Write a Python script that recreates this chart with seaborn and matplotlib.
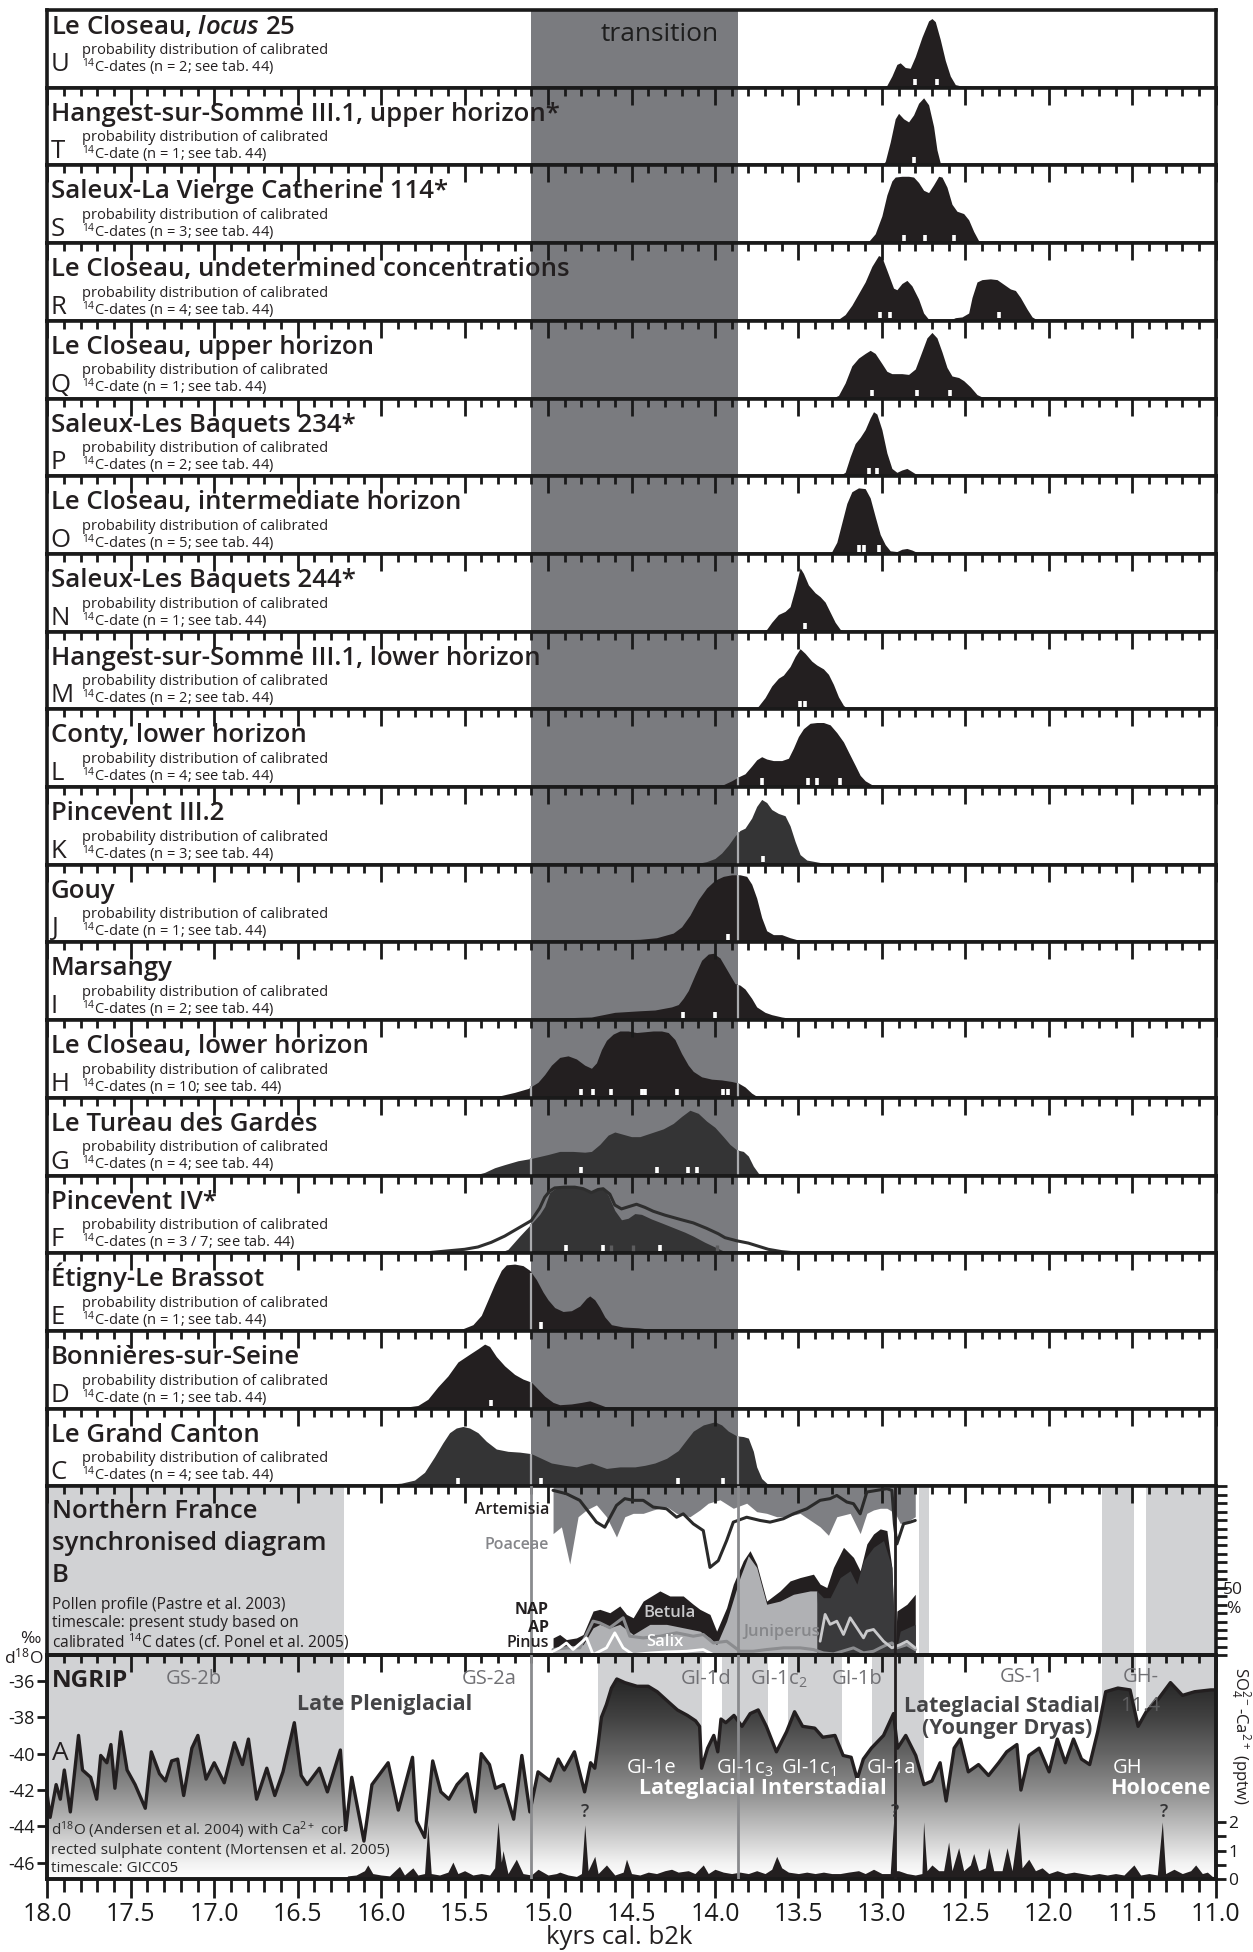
import numpy as np
import matplotlib
matplotlib.use("Agg")
import matplotlib.pyplot as plt
import seaborn as sns
from matplotlib.ticker import MultipleLocator, FixedLocator, NullFormatter
from matplotlib.colors import LinearSegmentedColormap

sns.set_style("white")
plt.rcParams.update({
    "font.family": ["Open Sans", "DejaVu Sans"],
    "mathtext.fontset": "custom",
    "mathtext.rm": "Open Sans",
    "mathtext.it": "Open Sans:italic:semibold",
    "mathtext.bf": "Open Sans:bold",
    "mathtext.default": "regular",
    "axes.unicode_minus": False,
    "axes.axisbelow": False,
    "axes.edgecolor": "#1a1a1a",
    "xtick.color": "#1a1a1a",
    "ytick.color": "#1a1a1a",
    "text.color": "#231f20",
})

# ---------------------------------------------------------------- site data
u_kyr = [13.00, 12.97, 12.94, 12.91, 12.89, 12.86, 12.83, 12.80, 12.76, 12.72, 12.70, 12.68, 12.65, 12.62, 12.59, 12.56, 12.52, 12.47, 12.43]
u_prob = [0, 0.03, 0.15, 0.30, 0.32, 0.26, 0.25, 0.40, 0.65, 0.86, 0.89, 0.85, 0.62, 0.35, 0.15, 0.04, 0.02, 0.02, 0]
u_dates = [12.80, 12.67]

t_kyr = [13.00, 12.98, 12.95, 12.92, 12.90, 12.87, 12.84, 12.81, 12.78, 12.75, 12.72, 12.69, 12.67, 12.65, 12.63]
t_prob = [0, 0.05, 0.30, 0.60, 0.67, 0.60, 0.56, 0.65, 0.80, 0.87, 0.78, 0.50, 0.20, 0.03, 0]
t_dates = [12.81]

s_kyr = [13.12, 13.08, 13.04, 13.00, 12.97, 12.94, 12.92, 12.88, 12.84, 12.81, 12.78, 12.75, 12.72, 12.69, 12.66, 12.64, 12.61, 12.58, 12.55, 12.51, 12.48, 12.45, 12.42, 12.38, 12.32, 12.26, 12.23]
s_prob = [0, 0.02, 0.12, 0.35, 0.62, 0.80, 0.85, 0.86, 0.86, 0.85, 0.78, 0.68, 0.65, 0.75, 0.86, 0.85, 0.72, 0.50, 0.41, 0.38, 0.30, 0.15, 0.03, 0.02, 0.03, 0.01, 0]
s_dates = [12.87, 12.74, 12.57]

r_kyr = [13.30, 13.26, 13.22, 13.18, 13.14, 13.10, 13.06, 13.02, 13.00, 12.97, 12.93, 12.91, 12.88, 12.85, 12.82, 12.78, 12.75, 12.72, 12.68, 12.60, 12.56, 12.52, 12.48, 12.46, 12.43, 12.40, 12.35, 12.31, 12.27, 12.23, 12.20, 12.17, 12.13, 12.10, 12.06]
r_prob = [0, 0.02, 0.08, 0.20, 0.35, 0.50, 0.70, 0.84, 0.82, 0.65, 0.42, 0.40, 0.48, 0.52, 0.45, 0.28, 0.10, 0.02, 0, 0, 0.04, 0.05, 0.10, 0.30, 0.50, 0.53, 0.54, 0.53, 0.47, 0.41, 0.39, 0.30, 0.15, 0.05, 0]
r_dates = [13.01, 12.95, 12.30]

q_kyr = [13.30, 13.26, 13.22, 13.18, 13.14, 13.10, 13.07, 13.04, 13.00, 12.97, 12.94, 12.88, 12.84, 12.80, 12.77, 12.73, 12.70, 12.67, 12.64, 12.61, 12.58, 12.54, 12.51, 12.47, 12.43, 12.40, 12.34, 12.28, 12.24]
q_prob = [0, 0.04, 0.20, 0.42, 0.52, 0.58, 0.62, 0.58, 0.45, 0.35, 0.32, 0.32, 0.31, 0.38, 0.55, 0.78, 0.85, 0.78, 0.60, 0.40, 0.29, 0.27, 0.23, 0.15, 0.05, 0.02, 0.02, 0.01, 0]
q_dates = [13.06, 12.79, 12.59]

p_kyr = [13.26, 13.22, 13.19, 13.16, 13.13, 13.10, 13.07, 13.05, 13.03, 13.00, 12.97, 12.94, 12.91, 12.88, 12.85, 12.82, 12.79, 12.76]
p_prob = [0, 0.05, 0.25, 0.42, 0.50, 0.60, 0.75, 0.83, 0.80, 0.60, 0.30, 0.10, 0.05, 0.08, 0.10, 0.06, 0.02, 0]
p_dates = [13.08, 13.03]

o_kyr = [13.34, 13.30, 13.27, 13.24, 13.21, 13.18, 13.14, 13.10, 13.07, 13.04, 13.01, 12.98, 12.95, 12.91, 12.88, 12.85, 12.82, 12.79, 12.75]
o_prob = [0, 0.03, 0.15, 0.40, 0.65, 0.80, 0.85, 0.84, 0.72, 0.48, 0.25, 0.12, 0.04, 0.03, 0.06, 0.07, 0.05, 0.02, 0]
o_dates = [13.135, 13.105, 13.02]

n_kyr = [13.72, 13.69, 13.66, 13.62, 13.58, 13.55, 13.52, 13.49, 13.47, 13.44, 13.40, 13.37, 13.34, 13.31, 13.28, 13.25, 13.22]
n_prob = [0, 0.03, 0.12, 0.22, 0.26, 0.32, 0.55, 0.82, 0.75, 0.60, 0.50, 0.45, 0.38, 0.25, 0.12, 0.03, 0]
n_dates = [13.46]

m_kyr = [13.77, 13.74, 13.70, 13.66, 13.62, 13.59, 13.55, 13.52, 13.49, 13.46, 13.42, 13.39, 13.35, 13.32, 13.29, 13.26, 13.23, 13.20]
m_prob = [0, 0.04, 0.15, 0.30, 0.40, 0.44, 0.55, 0.68, 0.78, 0.72, 0.62, 0.57, 0.52, 0.45, 0.32, 0.16, 0.05, 0]
m_dates = [13.49, 13.46]

l_kyr = [14.10, 14.02, 13.95, 13.90, 13.86, 13.82, 13.78, 13.75, 13.72, 13.69, 13.65, 13.60, 13.56, 13.53, 13.50, 13.47, 13.43, 13.39, 13.35, 13.31, 13.27, 13.23, 13.20, 13.16, 13.13, 13.10, 13.06, 13.02]
l_prob = [0, 0.01, 0.03, 0.08, 0.13, 0.17, 0.27, 0.35, 0.39, 0.36, 0.34, 0.34, 0.37, 0.50, 0.65, 0.75, 0.82, 0.83, 0.83, 0.80, 0.70, 0.58, 0.45, 0.28, 0.15, 0.08, 0.03, 0]
l_dates = [13.72, 13.44, 13.39, 13.25]

k_kyr = [14.20, 14.12, 14.05, 14.00, 13.96, 13.92, 13.88, 13.85, 13.82, 13.78, 13.75, 13.72, 13.69, 13.66, 13.62, 13.58, 13.55, 13.52, 13.49, 13.45, 13.40, 13.35, 13.29]
k_prob = [0, 0.01, 0.04, 0.08, 0.15, 0.25, 0.37, 0.44, 0.47, 0.60, 0.75, 0.84, 0.80, 0.71, 0.66, 0.63, 0.50, 0.30, 0.13, 0.06, 0.04, 0.02, 0]
k_dates = [13.71]

j_kyr = [15.20, 15.00, 14.80, 14.60, 14.45, 14.35, 14.25, 14.20, 14.15, 14.10, 14.05, 14.00, 13.95, 13.90, 13.85, 13.81, 13.78, 13.75, 13.72, 13.69, 13.65, 13.60, 13.55, 13.50, 13.42, 13.37]
j_prob = [0, 0.02, 0.03, 0.03, 0.04, 0.06, 0.12, 0.20, 0.35, 0.55, 0.70, 0.80, 0.85, 0.87, 0.87, 0.85, 0.75, 0.57, 0.32, 0.15, 0.10, 0.10, 0.06, 0.03, 0.01, 0]
j_dates = [13.92]

i_kyr = [15.20, 15.10, 14.90, 14.74, 14.60, 14.45, 14.36, 14.26, 14.22, 14.19, 14.16, 14.12, 14.08, 14.04, 14.01, 13.97, 13.94, 13.91, 13.88, 13.85, 13.82, 13.78, 13.75, 13.70, 13.66, 13.60, 13.54, 13.50]
i_prob = [0, 0.02, 0.03, 0.04, 0.10, 0.12, 0.13, 0.17, 0.20, 0.28, 0.38, 0.58, 0.77, 0.85, 0.86, 0.80, 0.69, 0.58, 0.47, 0.45, 0.40, 0.28, 0.17, 0.10, 0.07, 0.04, 0.02, 0]
i_dates = [14.19, 14.00]

h_kyr = [15.35, 15.28, 15.20, 15.12, 15.06, 15.02, 14.98, 14.93, 14.88, 14.83, 14.78, 14.74, 14.71, 14.68, 14.65, 14.61, 14.57, 14.52, 14.47, 14.42, 14.37, 14.32, 14.28, 14.24, 14.20, 14.16, 14.13, 14.08, 14.02, 13.96, 13.90, 13.86, 13.82, 13.78, 13.75, 13.72]
h_prob = [0, 0.03, 0.07, 0.12, 0.20, 0.30, 0.42, 0.52, 0.54, 0.50, 0.42, 0.38, 0.45, 0.62, 0.74, 0.82, 0.86, 0.86, 0.84, 0.85, 0.86, 0.86, 0.84, 0.75, 0.57, 0.42, 0.34, 0.27, 0.24, 0.23, 0.21, 0.19, 0.14, 0.06, 0.02, 0]
h_dates = [14.80, 14.73, 14.62, 14.44, 14.42, 14.23, 13.95, 13.92]

g_kyr = [15.45, 15.38, 15.32, 15.26, 15.18, 15.10, 15.00, 14.93, 14.85, 14.78, 14.74, 14.69, 14.64, 14.60, 14.55, 14.50, 14.45, 14.38, 14.31, 14.25, 14.20, 14.15, 14.10, 14.05, 14.00, 13.95, 13.91, 13.87, 13.83, 13.80, 13.77, 13.74, 13.71]
g_prob = [0, 0.04, 0.10, 0.14, 0.19, 0.22, 0.27, 0.31, 0.31, 0.30, 0.31, 0.40, 0.52, 0.56, 0.53, 0.50, 0.50, 0.55, 0.60, 0.67, 0.76, 0.84, 0.80, 0.70, 0.62, 0.50, 0.40, 0.33, 0.31, 0.25, 0.12, 0.03, 0]
g_dates = [14.80, 14.35, 14.16, 14.11]

f_kyr = [15.30, 15.24, 15.17, 15.10, 15.05, 15.02, 14.99, 14.96, 14.90, 14.84, 14.79, 14.74, 14.70, 14.67, 14.64, 14.60, 14.56, 14.52, 14.48, 14.44, 14.38, 14.32, 14.25, 14.18, 14.13, 14.06, 13.99, 13.94, 13.90]
f_prob = [0, 0.05, 0.22, 0.38, 0.50, 0.60, 0.78, 0.83, 0.85, 0.85, 0.83, 0.78, 0.82, 0.83, 0.75, 0.55, 0.43, 0.45, 0.51, 0.50, 0.44, 0.39, 0.33, 0.27, 0.22, 0.14, 0.07, 0.02, 0]
f_dates = [14.89, 14.67, 14.33]
f7_kyr = [15.75, 15.70, 15.60, 15.50, 15.42, 15.34, 15.26, 15.18, 15.10, 15.05, 15.02, 14.99, 14.96, 14.90, 14.84, 14.79, 14.74, 14.70, 14.67, 14.63, 14.60, 14.56, 14.50, 14.47, 14.42, 14.37, 14.30, 14.20, 14.13, 14.05, 13.98, 13.94, 13.87, 13.80, 13.74, 13.68, 13.60, 13.50]
f7_prob = [0, 0.01, 0.03, 0.05, 0.08, 0.14, 0.22, 0.32, 0.42, 0.58, 0.72, 0.80, 0.84, 0.85, 0.85, 0.83, 0.78, 0.82, 0.83, 0.76, 0.62, 0.57, 0.61, 0.63, 0.59, 0.54, 0.49, 0.43, 0.39, 0.32, 0.25, 0.20, 0.16, 0.13, 0.09, 0.05, 0.02, 0]
f7_dates = [14.62, 14.49, 13.99]

e_kyr = [15.60, 15.52, 15.45, 15.40, 15.36, 15.32, 15.28, 15.25, 15.20, 15.15, 15.11, 15.07, 15.03, 15.00, 14.96, 14.91, 14.86, 14.81, 14.77, 14.75, 14.72, 14.69, 14.66, 14.62, 14.55, 14.46, 14.38, 14.30]
e_prob = [0, 0.02, 0.08, 0.20, 0.40, 0.60, 0.78, 0.85, 0.86, 0.84, 0.78, 0.66, 0.50, 0.40, 0.30, 0.25, 0.26, 0.32, 0.42, 0.45, 0.40, 0.30, 0.18, 0.08, 0.05, 0.04, 0.02, 0]
e_dates = [15.04]

d_kyr = [16.05, 15.95, 15.85, 15.78, 15.72, 15.66, 15.60, 15.54, 15.47, 15.42, 15.38, 15.35, 15.31, 15.26, 15.20, 15.15, 15.10, 15.06, 15.02, 14.97, 14.93, 14.86, 14.80, 14.75, 14.70, 14.65, 14.60]
d_prob = [0, 0.01, 0.02, 0.04, 0.12, 0.28, 0.42, 0.60, 0.70, 0.77, 0.83, 0.80, 0.67, 0.55, 0.44, 0.38, 0.34, 0.25, 0.16, 0.08, 0.05, 0.06, 0.08, 0.10, 0.06, 0.02, 0]
d_dates = [15.34]

c_kyr = [16.30, 16.20, 16.00, 15.88, 15.80, 15.74, 15.68, 15.63, 15.59, 15.55, 15.51, 15.47, 15.42, 15.37, 15.31, 15.24, 15.17, 15.10, 15.04, 14.98, 14.90, 14.83, 14.78, 14.74, 14.69, 14.65, 14.57, 14.48, 14.42, 14.36, 14.29, 14.22, 14.17, 14.13, 14.07, 14.00, 13.96, 13.92, 13.87, 13.83, 13.80, 13.77, 13.75, 13.72, 13.68, 13.65]
c_prob = [0, 0.01, 0.02, 0.04, 0.08, 0.18, 0.38, 0.56, 0.69, 0.75, 0.77, 0.75, 0.69, 0.58, 0.48, 0.45, 0.44, 0.42, 0.36, 0.30, 0.27, 0.25, 0.28, 0.30, 0.26, 0.23, 0.25, 0.25, 0.27, 0.30, 0.36, 0.46, 0.60, 0.71, 0.79, 0.83, 0.79, 0.71, 0.65, 0.64, 0.62, 0.45, 0.25, 0.10, 0.02, 0]
c_dates = [15.54, 15.04, 14.22, 13.95]

site_letters = ["U", "T", "S", "R", "Q", "P", "O", "N", "M", "L", "K", "J", "I", "H", "G", "F", "E", "D", "C"]
site_names = [r"Le Closeau, $\mathit{locus}$ 25",
              "Hangest-sur-Somme III.1, upper horizon*",
              "Saleux-La Vierge Catherine 114*",
              "Le Closeau, undetermined concentrations",
              "Le Closeau, upper horizon",
              "Saleux-Les Baquets 234*",
              "Le Closeau, intermediate horizon",
              "Saleux-Les Baquets 244*",
              "Hangest-sur-Somme III.1, lower horizon",
              "Conty, lower horizon",
              "Pincevent III.2",
              "Gouy",
              "Marsangy",
              "Le Closeau, lower horizon",
              "Le Tureau des Gardes",
              "Pincevent IV*",
              "Étigny-Le Brassot",
              "Bonnières-sur-Seine",
              "Le Grand Canton"]
site_counts = ["dates (n = 2", "date (n = 1", "dates (n = 3", "dates (n = 4", "date (n = 1",
               "dates (n = 2", "dates (n = 5", "date (n = 1", "dates (n = 2", "dates (n = 4",
               "dates (n = 3", "date (n = 1", "dates (n = 2", "dates (n = 10", "dates (n = 4",
               "dates (n = 3 / 7", "date (n = 1", "date (n = 1", "dates (n = 4"]
site_kyr = [u_kyr, t_kyr, s_kyr, r_kyr, q_kyr, p_kyr, o_kyr, n_kyr, m_kyr, l_kyr,
            k_kyr, j_kyr, i_kyr, h_kyr, g_kyr, f_kyr, e_kyr, d_kyr, c_kyr]
site_prob = [u_prob, t_prob, s_prob, r_prob, q_prob, p_prob, o_prob, n_prob, m_prob, l_prob,
             k_prob, j_prob, i_prob, h_prob, g_prob, f_prob, e_prob, d_prob, c_prob]
site_dates = [u_dates, t_dates, s_dates, r_dates, q_dates, p_dates, o_dates, n_dates, m_dates, l_dates,
              k_dates, j_dates, i_dates, h_dates, g_dates, f_dates, e_dates, d_dates, c_dates]
grey_sites = {"K", "G", "F", "C"}

transition = (15.10, 13.86)

# ---------------------------------------------------------------- pollen (B)
poa_kyr = [14.97, 14.92, 14.87, 14.82, 14.77, 14.71, 14.65, 14.59, 14.54, 14.49, 14.43, 14.37, 14.29, 14.23, 14.15, 14.09, 14.04, 13.97, 13.89, 13.81, 13.75, 13.69, 13.63, 13.57, 13.49, 13.43, 13.37, 13.32, 13.27, 13.19, 13.13, 13.09, 13.05, 13.01, 12.97, 12.92, 12.89, 12.85, 12.80]
poa_pct = [72, 76, 54, 82, 86, 89, 82, 70, 82, 84, 84, 86, 88, 84, 82, 86, 90, 92, 87, 90, 85, 84, 82, 82, 84, 80, 76, 71, 82, 84, 72, 84, 86, 87, 87, 84, 78, 79, 82]
art_kyr = [14.97, 14.89, 14.81, 14.71, 14.66, 14.59, 14.54, 14.49, 14.43, 14.37, 14.29, 14.23, 14.19, 14.13, 14.07, 14.03, 13.98, 13.93, 13.89, 13.81, 13.73, 13.67, 13.59, 13.53, 13.45, 13.37, 13.31, 13.27, 13.21, 13.17, 13.13, 13.09, 13.03, 12.97, 12.94, 12.925, 12.91, 12.87, 12.83, 12.80]
art_pct = [97.6, 95.6, 91.7, 78.8, 75.8, 88.7, 92.7, 91.7, 91.7, 87.7, 86.7, 81.7, 83.7, 77.8, 73.8, 52.0, 56.0, 67.9, 78.8, 81.7, 79.8, 78.8, 80.8, 83.7, 86.7, 91.7, 92.7, 94.6, 90.7, 89.7, 83.7, 96.6, 97.6, 98.6, 97.6, 77.8, 65.9, 77.8, 78.8, 79.8]
nap_kyr = [14.97, 14.93, 14.89, 14.83, 14.79, 14.73, 14.69, 14.63, 14.57, 14.53, 14.49, 14.43, 14.33, 14.27, 14.19, 14.13, 14.09, 14.03, 13.99, 13.93, 13.89, 13.83, 13.79, 13.75, 13.69, 13.61, 13.55, 13.49, 13.41, 13.37, 13.33, 13.29, 13.23, 13.17, 13.13, 13.09, 13.05, 13.01, 12.97, 12.94, 12.92, 12.91, 12.85, 12.80]
nap_pct = [10.3, 12.3, 9.3, 10.3, 12.3, 26.2, 27.2, 25.2, 29.2, 24.2, 22.2, 32.1, 38.1, 35.1, 35.1, 30.2, 27.2, 24.2, 14.3, 28.2, 42.1, 56.0, 61.9, 54.0, 32.1, 38.1, 44.0, 46.0, 48.0, 42.1, 40.1, 52.0, 63.9, 57.9, 50.0, 65.9, 71.8, 74.8, 73.8, 52.0, 0.4, 26.2, 30.2, 36.1]
jun_kyr = [14.97, 14.89, 14.79, 14.73, 14.69, 14.63, 14.57, 14.49, 14.39, 14.29, 14.19, 14.09, 14.03, 13.99, 13.93, 13.85, 13.80, 13.75, 13.69, 13.61, 13.53, 13.43, 13.39, 13.37, 13.30, 13.20, 13.10, 13.00, 12.92, 12.85, 12.80]
jun_pct = [4.4, 5.4, 6.3, 16.3, 18.3, 16.3, 18.3, 12.3, 18.3, 18.3, 16.3, 14.3, 10.3, 6.3, 20.2, 46.0, 58.9, 52.0, 30.2, 32.1, 36.1, 38.1, 38.1, 4.4, 3, 3, 3, 3, 3, 5, 4]
bet_kyr = [13.39, 13.35, 13.31, 13.25, 13.19, 13.15, 13.11, 13.05, 12.99, 12.94, 12.92, 12.89, 12.80]
bet_pct = [38.1, 34.1, 34.1, 46.0, 50.0, 42.1, 56.0, 63.9, 67.9, 52.0, 0.4, 14.3, 18.3]
ap_kyr = [14.97, 14.89, 14.81, 14.73, 14.69, 14.63, 14.55, 14.51, 14.43, 14.33, 14.23, 14.13, 14.07, 14.01, 13.93, 13.85, 13.77, 13.69, 13.59, 13.49, 13.41, 13.35, 13.29, 13.17, 13.11, 13.05, 13.01, 12.97, 12.94, 12.91, 12.85, 12.80]
ap_pct = [3.4, 4.4, 4.4, 20.2, 19.2, 16.3, 22.2, 11.3, 10.3, 11.3, 13.3, 11.3, 12.3, 7.3, 8.3, 2.4, 2.4, 3.4, 4.4, 4.4, 3.4, 1.4, 0.8, 4.4, 1.4, 2.4, 4.4, 6.3, 7.3, 4.4, 6.3, 3.4]
pin_kyr = [14.97, 14.93, 14.89, 14.85, 14.77, 14.73, 14.65, 14.60, 14.55, 14.49, 14.39, 14.29, 14.17, 14.07, 14.01]
pin_pct = [2.4, 4.4, 7.3, 3.4, 10.3, 0.4, 4.4, 13.3, 4.4, 0.4, 1.4, 2.0, 2.4, 3.4, 0.4]
sal_kyr = [13.37, 13.34, 13.31, 13.27, 13.23, 13.19, 13.15, 13.11, 13.09, 13.05, 12.99, 12.94, 12.89, 12.85, 12.80]
sal_pct = [8.3, 24.2, 18.3, 20.2, 12.3, 22.2, 16.3, 10.3, 14.3, 15.3, 8.3, 4.4, 6.3, 8.3, 4.4]
b_zones = [(18.0, 16.22), (12.78, 12.72), (11.68, 11.49), (11.42, 11.0)]

# ---------------------------------------------------------------- NGRIP (A)
d18o_kyr = [18.00, 17.983, 17.947, 17.922, 17.898, 17.862, 17.813, 17.789, 17.74, 17.704, 17.68, 17.643, 17.619, 17.595,
            17.559, 17.522, 17.474, 17.413, 17.377, 17.328, 17.292, 17.255, 17.219, 17.183, 17.134, 17.098, 17.049,
            17.0, 16.94, 16.879, 16.831, 16.795, 16.746, 16.685, 16.637, 16.588, 16.52, 16.479, 16.443, 16.37,
            16.322, 16.244, 16.212, 16.176, 16.103, 16.055, 15.958, 15.897, 15.812, 15.788, 15.739, 15.691, 15.642,
            15.594, 15.545, 15.485, 15.436, 15.40, 15.351, 15.315, 15.267, 15.206, 15.157, 15.109, 15.06, 14.988,
            14.939, 14.903, 14.842, 14.781, 14.745, 14.72, 14.70, 14.68, 14.65, 14.62, 14.588, 14.54, 14.467, 14.40,
            14.346, 14.274, 14.225, 14.165, 14.116, 14.092, 14.08, 14.044, 14.007, 13.983, 13.964, 13.935, 13.886,
            13.838, 13.789, 13.741, 13.692, 13.632, 13.571, 13.523, 13.475, 13.402, 13.354, 13.281, 13.232, 13.184,
            13.148, 13.111, 13.063, 12.99, 12.93, 12.906, 12.857, 12.797, 12.748, 12.70, 12.651, 12.615, 12.567,
            12.53, 12.482, 12.421, 12.361, 12.30, 12.252, 12.191, 12.167, 12.119, 12.058, 11.998, 11.949, 11.901,
            11.852, 11.804, 11.755, 11.707, 11.659, 11.586, 11.513, 11.465, 11.416, 11.344, 11.271, 11.199, 11.126,
            11.029, 11.0]
d18o_val = [-42.3, -43.5, -41.7, -42.5, -40.9, -43.2, -39.0, -40.9, -41.3, -42.5, -40.1, -40.5, -39.5, -41.9,
            -38.8, -40.9, -41.7, -43.0, -39.9, -41.1, -41.5, -40.4, -40.3, -42.3, -39.7, -39.0, -41.4,
            -40.5, -41.6, -39.4, -40.6, -39.2, -42.5, -40.8, -42.3, -41.0, -38.3, -41.2, -41.7, -40.8,
            -42.1, -39.8, -44.2, -41.3, -44.8, -41.7, -40.5, -43.1, -40.2, -43.7, -44.6, -40.4, -42.1,
            -42.5, -41.7, -41.1, -43.2, -40.0, -40.6, -41.9, -41.7, -43.6, -40.1, -43.2, -41.0, -41.5,
            -40.3, -40.9, -39.9, -42.1, -40.5, -40.8, -39.5, -38.0, -37.3, -36.4, -35.9, -36.1, -36.3, -36.3,
            -36.6, -37.2, -37.6, -37.9, -38.2, -38.5, -40.8, -39.7, -39.0, -39.9, -38.1, -38.3, -37.9,
            -38.5, -37.8, -37.6, -38.5, -39.9, -38.8, -37.7, -38.5, -38.6, -39.1, -39.0, -40.1, -40.2,
            -41.4, -40.3, -39.7, -39.0, -37.8, -39.7, -39.0, -40.1, -41.7, -41.5, -40.5, -42.6, -39.7,
            -39.2, -41.0, -40.6, -41.2, -40.5, -39.9, -39.5, -42.0, -40.1, -39.7, -41.0, -39.2, -40.5,
            -39.2, -40.3, -40.6, -38.8, -36.6, -36.4, -36.5, -38.5, -37.7, -37.0, -36.1, -36.8, -36.6,
            -36.5, -36.5]
so4_kyr = [16.22, 16.20, 16.15, 16.10, 16.08, 16.05, 16.00, 15.95, 15.89, 15.86, 15.81, 15.78, 15.74, 15.72, 15.70,
           15.65, 15.60, 15.57, 15.54, 15.50, 15.45, 15.40, 15.35, 15.32, 15.30, 15.28, 15.27, 15.24, 15.19, 15.15,
           15.10, 15.06, 15.00, 14.95, 14.93, 14.88, 14.83, 14.80, 14.78, 14.76, 14.72, 14.70, 14.65, 14.60, 14.55,
           14.53, 14.50, 14.45, 14.40, 14.35, 14.30, 14.26, 14.22, 14.16, 14.12, 14.07, 14.04, 14.00, 13.95, 13.90,
           13.85, 13.80, 13.75, 13.70, 13.66, 13.63, 13.60, 13.56, 13.50, 13.45, 13.40, 13.35, 13.30, 13.25, 13.20,
           13.14, 13.10, 13.05, 13.00, 12.95, 12.93, 12.915, 12.90, 12.85, 12.80, 12.76, 12.75, 12.73, 12.70, 12.66,
           12.63, 12.60, 12.58, 12.54, 12.51, 12.47, 12.45, 12.42, 12.38, 12.36, 12.33, 12.28, 12.25, 12.22, 12.18,
           12.16, 12.12, 12.08, 12.04, 12.00, 11.95, 11.90, 11.85, 11.80, 11.75, 11.70, 11.65, 11.60, 11.55, 11.49,
           11.45, 11.40, 11.35, 11.32, 11.30, 11.25, 11.20, 11.15, 11.12, 11.08, 11.05, 11.02, 11.00]
so4_val = [0.0, 0.12, 0.15, 0.3, 0.5, 0.2, 0.15, 0.12, 0.45, 0.15, 0.4, 0.15, 0.2, 1.9, 0.2,
           0.15, 0.25, 0.6, 0.2, 0.3, 0.15, 0.2, 0.15, 0.4, 2.0, 0.6, 1.0, 0.2, 0.7, 0.2,
           0.15, 0.35, 0.15, 0.2, 0.25, 0.15, 0.1, 0.2, 1.9, 0.3, 0.8, 0.2, 0.5, 0.15, 0.25,
           0.7, 0.2, 0.15, 0.25, 0.2, 0.3, 0.35, 0.25, 0.3, 0.2, 0.5, 0.2, 0.35, 0.25, 0.2,
           0.25, 0.2, 0.3, 0.2, 0.35, 0.8, 0.4, 0.25, 0.2, 0.25, 0.2, 0.25, 0.2, 0.2, 0.25,
           0.3, 0.2, 0.35, 0.2, 0.2, 2.0, 0.3, 0.3, 0.2, 0.15, 0.2, 2.0, 0.3, 0.5, 0.3,
           0.3, 1.3, 0.3, 1.1, 0.3, 0.5, 0.9, 0.3, 0.4, 1.1, 0.3, 0.3, 1.1, 0.3, 2.0,
           0.4, 0.7, 0.3, 0.4, 0.2, 0.3, 0.2, 0.25, 0.2, 0.15, 0.2, 0.15, 0.2, 0.15, 0.5,
           0.15, 0.2, 0.15, 2.0, 0.2, 0.35, 0.2, 0.3, 0.5, 0.2, 0.25, 0.1, 0.1]
a_zones = [(18.0, 16.22), (14.70, 14.08), (13.96, 13.68), (13.56, 13.24), (13.06, 12.75), (11.68, 11.48), (11.42, 11.0)]
event_line = 12.92

# ---------------------------------------------------------------- styling
INK = "#231f20"
DARKGREY = "#343435"
BAND = "#7a7b7f"
ZONE = "#d1d2d4"
SPINE_W = 2.6
W, H = 1253, 1952
LEFT, RIGHT, TOP = 47.3, 1215.7, 10.0
PANEL_H = 77.7
B_H = 169.0
A_H = 224.0

fig = plt.figure(figsize=(W / 100, H / 100), dpi=100, facecolor="white")


def add_panel(y0, h):
    ax = fig.add_axes([LEFT / W, 1 - (y0 + h) / H, (RIGHT - LEFT) / W, h / H])
    ax.set_facecolor("white")
    for sp in ax.spines.values():
        sp.set_linewidth(SPINE_W)
        sp.set_color("#1a1a1a")
    ax.set_xlim(18.0, 11.0)
    ax.xaxis.set_major_locator(MultipleLocator(0.5))
    ax.xaxis.set_minor_locator(MultipleLocator(0.1))
    ax.set_yticks([])
    return ax


def top_ticks(axis_obj, show=True):
    axis_obj.tick_params(axis="x", which="both", direction="in", top=show, bottom=False,
                         labeltop=False, labelbottom=False, width=2.0)
    axis_obj.tick_params(axis="x", which="major", length=12)
    axis_obj.tick_params(axis="x", which="minor", length=6)


def sorted_interp(x, xs, ys):
    xs = np.asarray(xs)
    ys = np.asarray(ys)
    order = np.argsort(xs)
    return np.interp(x, xs[order], ys[order], left=0, right=0)


# ---------------------------------------------------------------- site panels
for i, letter in enumerate(site_letters):
    ax = add_panel(TOP + i * PANEL_H, PANEL_H)
    ax.set_ylim(0, 1)
    top_ticks(ax, show=(i > 0))
    ax.axvspan(*transition, color=BAND, lw=0, zorder=0)
    col = DARKGREY if letter in grey_sites else INK
    kyr, prob = site_kyr[i], site_prob[i]
    ax.fill_between(kyr, 0, prob, color=col, lw=0, zorder=2)
    if letter == "F":
        sns.lineplot(x=f7_kyr, y=f7_prob, ax=ax, color="#2e2e2e", lw=2.2, sort=False,
                     estimator=None, zorder=3, legend=False)
        ax.vlines(f7_dates, 0.03, 0.11, colors="#5c5c5e", lw=2.4, zorder=3)
    for xe in transition:
        top_y = sorted_interp(xe, kyr, prob)
        if top_y > 0.01:
            ax.vlines(xe, 0, top_y, colors="#a9aaad", lw=1.6, zorder=2.6)
    ax.vlines(site_dates[i], 0.03, 0.11, colors="white", lw=2.6, zorder=3)
    ax.set_xlabel("")
    ax.set_ylabel("")

    dy = 0.12 if i == 0 else 0.0
    ax.text(0.003, 0.575 + dy, site_names[i], transform=ax.transAxes, fontsize=18.5,
            fontweight="semibold", va="baseline", ha="left", zorder=6, color=INK)
    ax.text(0.003, 0.09 + dy, letter, transform=ax.transAxes, fontsize=18.5,
            va="baseline", ha="left", zorder=6, color=INK)
    ax.text(0.0297, 0.355 + dy, "probability distribution of calibrated", transform=ax.transAxes,
            fontsize=10.5, va="center", ha="left", zorder=6, color=INK)
    ax.text(0.0297, 0.14 + dy, r"$^{14}$C-" + site_counts[i] + "; see tab. 44)", transform=ax.transAxes,
            fontsize=10.5, va="center", ha="left", zorder=6, color=INK)
    if i == 0:
        ax.text(14.33, 0.69, "transition", fontsize=19, ha="center", va="center",
                color="#1e1e1e", zorder=6)

# ---------------------------------------------------------------- pollen panel B
yB = TOP + len(site_letters) * PANEL_H
axB = add_panel(yB, B_H)
axB.set_ylim(0, 100)
top_ticks(axB)
for a, b in b_zones:
    axB.axvspan(a, b, color=ZONE, lw=0, zorder=0)
axB.fill_between(poa_kyr, poa_pct, 100, color="#7e7f83", lw=0, zorder=1)
axB.fill_between(nap_kyr, 0, nap_pct, color=INK, lw=0, zorder=2)
axB.fill_between(jun_kyr, 0, jun_pct, color="#b0b1b4", lw=0, zorder=3)
axB.fill_between(bet_kyr, 0, bet_pct, color="#3a3a3c", lw=0, zorder=3)
sns.lineplot(x=art_kyr, y=art_pct, ax=axB, color="#2a2a2a", lw=2.2, sort=False, estimator=None, zorder=4, legend=False)
sns.lineplot(x=ap_kyr, y=ap_pct, ax=axB, color="#8b8c8f", lw=2.2, sort=False, estimator=None, zorder=4, legend=False)
sns.lineplot(x=pin_kyr, y=pin_pct, ax=axB, color="white", lw=2.0, sort=False, estimator=None, zorder=4, legend=False)
sns.lineplot(x=sal_kyr, y=sal_pct, ax=axB, color="#c9c9cb", lw=2.0, sort=False, estimator=None, zorder=4, legend=False)
for xe in transition:
    axB.axvline(xe, color="#8a8b8e", lw=2.0, zorder=5)
axB.axvline(event_line, color=INK, lw=2.0, zorder=5)
axB.set_xlabel("")
axB.set_ylabel("")

axB.yaxis.tick_right()
axB.set_yticks(np.arange(0, 101, 5))
axB.yaxis.set_major_formatter(NullFormatter())
axB.tick_params(axis="y", which="major", direction="out", length=8, width=2.0, right=True, left=False)
axB.text(1.006, 38.5, "50", transform=axB.get_yaxis_transform(), fontsize=12.5, va="center", ha="left")
axB.text(1.009, 27.5, "%", transform=axB.get_yaxis_transform(), fontsize=12.5, va="center", ha="left")

axB.text(0.004, 0.848, "Northern France", transform=axB.transAxes, fontsize=18.5,
         fontweight="semibold", va="center", ha="left")
axB.text(0.004, 0.66, "synchronised diagram", transform=axB.transAxes, fontsize=18.5,
         fontweight="semibold", va="center", ha="left")
axB.text(0.004, 0.475, "B", transform=axB.transAxes, fontsize=18.5,
         fontweight="semibold", va="center", ha="left")
axB.text(0.004, 0.30, "Pollen profile (Pastre et al. 2003)", transform=axB.transAxes,
         fontsize=11.2, va="center", ha="left")
axB.text(0.004, 0.19, "timescale: present study based on", transform=axB.transAxes,
         fontsize=11.2, va="center", ha="left")
axB.text(0.004, 0.08, r"calibrated $^{14}$C dates (cf. Ponel et al. 2005)", transform=axB.transAxes,
         fontsize=11.2, va="center", ha="left")
for label, yy, col, wt in [("Artemisia", 86, INK, "semibold"), ("Poaceae", 65.3, "#85868a", "semibold"),
                           ("NAP", 26.8, INK, "bold"), ("AP", 16.2, INK, "bold"), ("Pinus", 7.3, INK, "semibold")]:
    axB.text(14.995, yy, label, fontsize=11.5, fontweight=wt, color=col, ha="right", va="center", zorder=6)
axB.text(14.27, 25, "Betula", fontsize=12, fontweight="semibold", color="#c8c8ca", ha="center", va="center", zorder=6)
axB.text(14.30, 7.9, "Salix", fontsize=12, fontweight="semibold", color="white", ha="center", va="center", zorder=6)
axB.text(13.60, 13.8, "Juniperus", fontsize=12, fontweight="semibold", color="#86878a", ha="center", va="center", zorder=6)

# ---------------------------------------------------------------- NGRIP panel A
yA = yB + B_H
axA = add_panel(yA, A_H)
Y0, Y1 = -46.9, -34.6
axA.set_ylim(Y0, Y1)
for a, b in a_zones:
    axA.axvspan(a, b, color=ZONE, lw=0, zorder=0)

ramp = LinearSegmentedColormap.from_list(
    "ngrip", [(0.0, "#ffffff"), (0.07, "#f2f2f2"), (0.24, "#bdbdbd"), (0.40, "#8c8c8c"),
              (0.56, "#656565"), (0.73, "#404040"), (0.89, "#262626"), (1.0, "#1c1c1c")])
grad = np.linspace(0, 1, 256).reshape(-1, 1)
im = axA.imshow(grad, extent=[18.0, 11.0, Y0, Y1], origin="lower", aspect="auto", cmap=ramp, zorder=1)
under = axA.fill_between(d18o_kyr, Y0, d18o_val, facecolor="none", edgecolor="none")
im.set_clip_path(under.get_paths()[0], transform=axA.transData)
sns.lineplot(x=d18o_kyr, y=d18o_val, ax=axA, color=INK, lw=2.4, sort=False, estimator=None, zorder=3, legend=False)
axA.set_xlim(18.0, 11.0)
axA.set_ylim(Y0, Y1)
axA.set_xlabel("")
axA.set_ylabel("")

axA.set_yticks([-36, -38, -40, -42, -44, -46])
axA.set_yticklabels(["-36", "-38", "-40", "-42", "-44", "-46"])
axA.tick_params(axis="y", which="major", direction="out", length=7, width=2.0, left=True, right=False,
                labelsize=13, pad=2)
axA.tick_params(axis="x", which="both", direction="out", bottom=True, top=False, labelbottom=True, width=2.0)
axA.tick_params(axis="x", which="major", length=14, labelsize=18, pad=2)
axA.tick_params(axis="x", which="minor", length=9)
axA.xaxis.set_major_formatter(matplotlib.ticker.FuncFormatter(lambda v, p: f"{v:.1f}"))
fig.text((LEFT + RIGHT) / 2 / W - 0.01, 1 - 1938 / H, "kyrs cal. b2k", fontsize=18.5, ha="center", va="center")

secA = axA.secondary_xaxis("top")
secA.xaxis.set_major_locator(MultipleLocator(0.5))
secA.xaxis.set_minor_locator(MultipleLocator(0.1))
top_ticks(secA)
secA.spines["top"].set_linewidth(SPINE_W)

axS = axA.twinx()
axS.set_ylim(0, 7.8)
axS.fill_between(so4_kyr, 0, so4_val, color=INK, lw=0, zorder=2)
for xe in transition:
    axS.axvline(xe, color="#8a8b8e", lw=2.0, zorder=3)
axS.axvline(event_line, color=INK, lw=2.0, zorder=3)
axS.yaxis.set_major_locator(FixedLocator([0, 1, 2]))
axS.yaxis.set_minor_locator(FixedLocator([0.5, 1.5]))
axS.tick_params(axis="y", which="both", direction="out", width=2.0, labelsize=12.5, pad=2)
axS.tick_params(axis="y", which="major", length=7)
axS.tick_params(axis="y", which="minor", length=7)
for sp in axS.spines.values():
    sp.set_linewidth(SPINE_W)
    sp.set_color("#1a1a1a")
axS.set_xlim(18.0, 11.0)
axS.text(1.021, 0.64, r"SO$_4^{2-}$-Ca$^{2+}$ (pptw)", transform=axS.transAxes, rotation=270,
         fontsize=12, ha="center", va="center")


def atext(x, y, s, **kw):
    yy = (y - Y0) / (Y1 - Y0) * 7.8
    axS.text(x, yy, s, zorder=10, **kw)


atext(17.97, -36.0, "NGRIP", fontsize=17.5, fontweight="bold", ha="left", va="center", color=INK)
atext(17.97, -40.0, "A", fontsize=19, ha="left", va="center", color=INK)
atext(17.12, -35.9, "GS-2b", fontsize=14.5, ha="center", va="center", color="#707074")
atext(15.35, -35.9, "GS-2a", fontsize=14.5, ha="center", va="center", color="#707074")
atext(15.98, -37.3, "Late Pleniglacial", fontsize=15.5, fontweight="bold", ha="center", va="center", color="#454547")
atext(14.05, -35.9, "GI-1d", fontsize=14.5, ha="center", va="center", color="#707074")
atext(13.62, -35.9, r"GI-1c$_2$", fontsize=14.5, ha="center", va="center", color="#707074")
atext(13.15, -35.9, "GI-1b", fontsize=14.5, ha="center", va="center", color="#707074")
atext(12.16, -35.8, "GS-1", fontsize=14.5, ha="center", va="center", color="#707074")
atext(11.45, -35.8, "GH-", fontsize=14.5, ha="center", va="center", color="#707074")
atext(11.45, -37.4, "11.4", fontsize=14.5, ha="center", va="center", color="#5e5e60")
atext(12.28, -37.4, "Lateglacial Stadial", fontsize=15.5, fontweight="bold", ha="center", va="center", color="#454547")
atext(12.25, -38.6, "(Younger Dryas)", fontsize=15.5, fontweight="bold", ha="center", va="center", color="#454547")
atext(14.38, -40.8, "GI-1e", fontsize=14.5, ha="center", va="center", color="white")
atext(13.82, -40.8, r"GI-1c$_3$", fontsize=14.5, ha="center", va="center", color="white")
atext(13.44, -40.8, r"GI-1c$_1$", fontsize=14.5, ha="center", va="center", color="white")
atext(12.94, -40.8, "GI-1a", fontsize=14.5, ha="center", va="center", color="white")
atext(13.71, -41.9, "Lateglacial Interstadial", fontsize=15.5, fontweight="bold", ha="center", va="center", color="white")
atext(11.53, -40.8, "GH", fontsize=14.5, ha="center", va="center", color="white")
atext(11.33, -41.9, "Holocene", fontsize=15.5, fontweight="bold", ha="center", va="center", color="white")
for qx in (14.78, 12.92, 11.31):
    atext(qx, -43.2, "?", fontsize=13, fontweight="semibold", ha="center", va="center", color="#333335")
atext(17.98, -44.2, r"d$^{18}$O (Andersen et al. 2004) with Ca$^{2+}$ cor-", fontsize=11, ha="left", va="center", color="#2a2a2a")
atext(17.98, -45.3, "rected sulphate content (Mortensen et al. 2005)", fontsize=11, ha="left", va="center", color="#2a2a2a")
atext(17.98, -46.3, "timescale: GICC05", fontsize=11, ha="left", va="center", color="#2a2a2a")

fig.text(30 / W, 1 - 1639 / H, "‰", fontsize=12.5, ha="center", va="center")
fig.text(24 / W, 1 - 1657 / H, r"d$^{18}$O", fontsize=12.5, ha="center", va="center")

fig.savefig("out.png", dpi=100, facecolor="white")
